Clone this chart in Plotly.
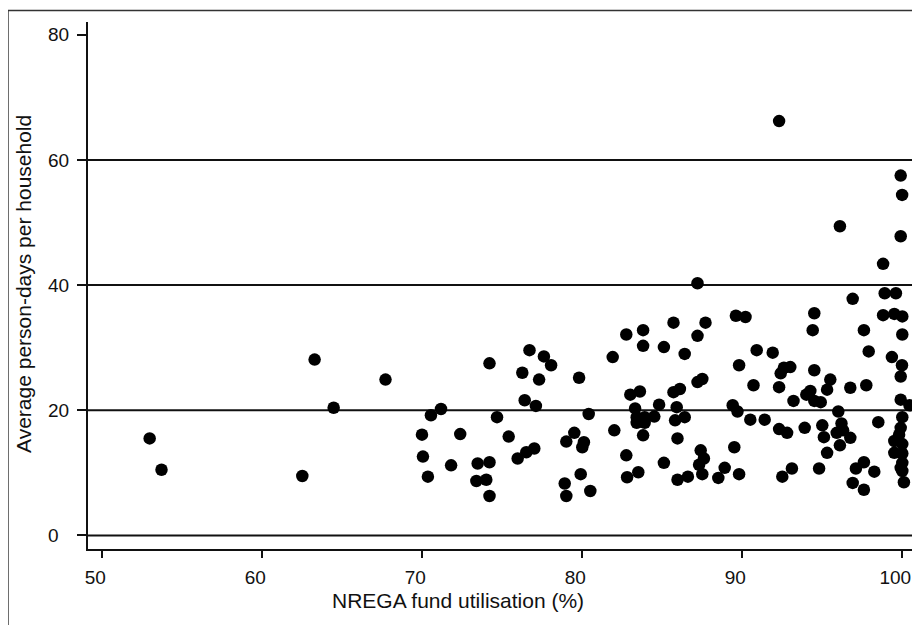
import plotly.graph_objects as go

# NREGA fund utilisation (%) vs average person-days per household
fund_util = [
    52.96, 53.7, 62.5, 63.27, 64.46, 67.7,
    70.54, 71.17, 69.98, 72.37, 70.04, 71.8, 70.35, 74.2, 74.67, 75.4,
    73.46, 74.2, 73.38, 74.0, 74.2, 76.7, 77.6, 78.05, 76.25, 77.3,
    79.8, 76.4, 77.1, 80.4, 79.5, 79.0, 80.1, 80.0, 75.96, 76.5,
    77.0, 79.9, 78.9, 79.0, 80.5,
    87.2, 89.6, 90.2, 82.75, 83.8, 85.7, 87.7, 87.2, 83.8, 85.1,
    86.4, 81.9, 90.9, 89.8, 90.7, 87.2, 87.5, 83.0, 83.6, 85.7,
    86.1, 84.8, 85.9, 83.3, 89.4, 89.7, 83.4, 83.9, 84.5, 85.8,
    86.4, 83.4, 83.9, 90.5, 82.0, 83.8, 85.95, 89.5, 82.75, 85.1,
    87.4, 87.6, 87.3, 82.8, 83.5, 85.95, 86.6, 87.5, 88.5, 88.9, 89.8,
    92.3, 99.9, 99.99, 96.1, 99.9, 98.8, 98.9, 99.6, 96.9,
    94.5, 98.8, 99.5, 100.0, 94.4, 97.6, 100.0, 97.9, 91.9, 99.35,
    99.98, 92.6, 93.0, 92.4, 94.5, 99.9, 95.5, 95.3, 92.3, 96.75,
    97.75, 94.25, 94.0, 93.2, 94.5, 94.9, 99.9, 100.45, 96.0, 91.4,
    92.3, 92.8, 93.9, 95.0, 96.2, 98.5, 100.0, 95.1, 95.9, 96.3,
    96.75, 96.1, 99.9, 99.8, 99.5, 100.0, 99.5, 100.0, 95.3, 100.0,
    99.9, 100.0, 97.6, 97.1, 98.25, 93.1, 92.5, 94.8, 96.9, 97.6, 100.1,
]
person_days = [
    15.5, 10.5, 9.5, 28.1, 20.4, 24.9,
    19.2, 20.2, 16.1, 16.2, 12.6, 11.2, 9.4, 27.5, 18.9, 15.8,
    11.5, 11.7, 8.7, 8.9, 6.3, 29.6, 28.6, 27.2, 26.0, 24.9,
    25.2, 21.6, 20.7, 19.4, 16.4, 15.0, 14.9, 14.1, 12.3, 13.3,
    13.9, 9.8, 8.3, 6.3, 7.1,
    40.3, 35.1, 34.9, 32.1, 32.8, 34.0, 34.0, 31.9, 30.3, 30.1,
    29.0, 28.5, 29.6, 27.2, 24.0, 24.5, 25.0, 22.5, 23.0, 22.9,
    23.4, 20.9, 20.5, 20.3, 20.8, 19.8, 18.9, 18.9, 19.0, 18.4,
    18.9, 18.0, 18.0, 18.5, 16.8, 16.0, 15.5, 14.1, 12.8, 11.6,
    13.6, 12.3, 11.3, 9.3, 10.1, 8.9, 9.4, 9.8, 9.2, 10.8, 9.8,
    66.2, 57.5, 54.4, 49.4, 47.8, 43.4, 38.7, 38.7, 37.8,
    35.5, 35.2, 35.4, 35.0, 32.8, 32.8, 32.1, 29.4, 29.2, 28.5,
    27.2, 26.8, 26.9, 25.9, 26.4, 25.4, 24.9, 23.3, 23.7, 23.6,
    24.0, 23.1, 22.5, 21.5, 21.5, 21.3, 21.7, 20.8, 19.8, 18.5,
    17.0, 16.4, 17.2, 17.6, 17.9, 18.1, 18.9, 15.7, 16.4, 16.8,
    15.6, 14.4, 17.2, 16.1, 15.1, 14.6, 13.2, 13.1, 13.2, 11.6,
    10.8, 10.3, 11.7, 10.7, 10.2, 10.7, 9.4, 10.7, 8.4, 7.3, 8.5,
]

x_ticks = [50, 60, 70, 80, 90, 100]
y_ticks = [0, 20, 40, 60, 80]
y_tick_text = ["0\u2007", "20", "40", "60", "80"]
grid_values = [0, 20, 40, 60]

x_title = "NREGA fund utilisation (%)"
y_title = "Average person-days per household"

FONT = "Liberation Sans, Arial, sans-serif"
INK = "#111111"

fig = go.Figure()
fig.add_trace(go.Scatter(
    x=fund_util, y=person_days, mode="markers",
    marker=dict(size=12.5, color="#000000", line=dict(width=0)),
    hoverinfo="x+y", showlegend=False,
))

for gv in grid_values:
    fig.add_shape(type="line", xref="paper", yref="y", x0=0, x1=1, y0=gv, y1=gv,
                  line=dict(color=INK, width=2), layer="below")

# outer frame (left and top edges visible)
fig.add_shape(type="line", xref="paper", yref="paper", x0=-0.0962, x1=-0.0962,
              y0=1.0218, y1=-0.2, line=dict(color="#333333", width=1.5))
fig.add_shape(type="line", xref="paper", yref="paper", x0=-0.0962, x1=1.1,
              y0=1.0218, y1=1.0218, line=dict(color="#333333", width=1.5))

fig.add_annotation(text=x_title, xref="paper", yref="paper", x=0.4447, y=-0.098,
                   xanchor="center", yanchor="middle", showarrow=False,
                   font=dict(family=FONT, size=21, color=INK))
fig.add_annotation(text=y_title, xref="paper", yref="paper", x=-0.0775, y=0.502,
                   xanchor="center", yanchor="middle", showarrow=False, textangle=-90,
                   font=dict(family=FONT, size=21, color=INK))

fig.update_layout(
    width=912, height=617,
    margin=dict(l=80, r=0, t=14, b=76),
    paper_bgcolor="white", plot_bgcolor="white",
    font=dict(family=FONT, size=19, color=INK),
    xaxis=dict(range=[49.106, 101.106], tickvals=x_ticks, showgrid=False, zeroline=False,
               showline=True, linewidth=2, linecolor=INK, ticks="outside", ticklen=7,
               tickwidth=2, tickcolor=INK, ticklabelshift=-7, ticklabelstandoff=3,
               tickfont=dict(family=FONT, size=19, color=INK)),
    yaxis=dict(range=[-2.16, 82.03], tickvals=y_ticks, ticktext=y_tick_text, showgrid=False,
               zeroline=False, showline=True, linewidth=2, linecolor=INK, ticks="outside",
               ticklen=9, tickwidth=2, tickcolor=INK, ticklabelstandoff=4,
               tickfont=dict(family=FONT, size=19, color=INK)),
)

fig.write_html("out.html")
